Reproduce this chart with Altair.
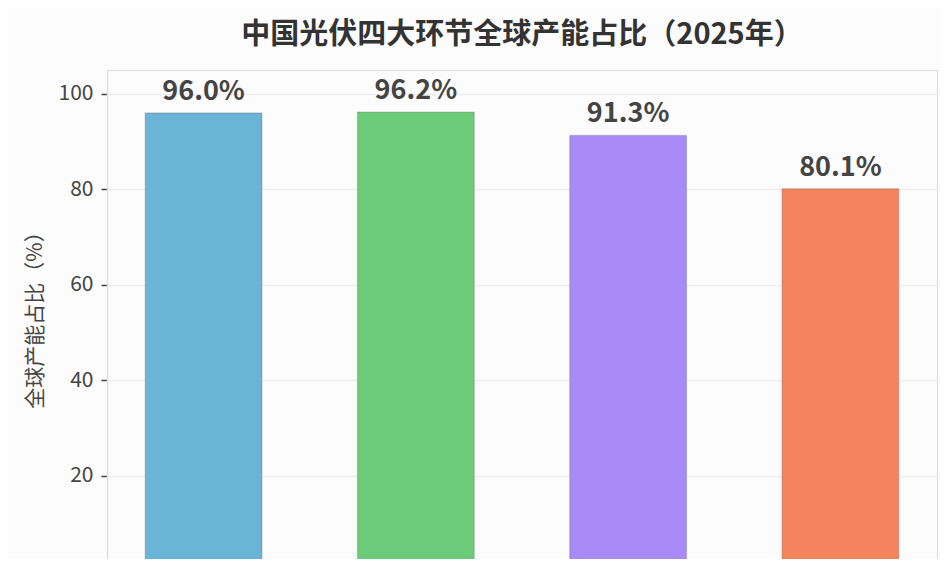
import altair as alt
import pandas as pd

categories = ["多晶硅", "硅片", "电池片", "组件"]
values = [96.0, 96.2, 91.3, 80.1]
colors = ["#6AB4D8", "#6CCB78", "#A98BF8", "#F5845E"]
labels = ["96.0%", "96.2%", "91.3%", "80.1%"]
y_ticks = [20, 40, 60, 80, 100]

df = pd.DataFrame({"环节": categories, "占比": values, "标签": labels})

font = "Noto Sans CJK SC"

x = alt.X("环节:N", sort=categories, title=None,
          scale=alt.Scale(paddingInner=0.45, paddingOuter=0.18),
          axis=None)
y = alt.Y("占比:Q", title="全球产能占比（%）",
          scale=alt.Scale(domain=[2.57, 105], nice=False, zero=False),
          axis=alt.Axis(values=y_ticks, labelFontSize=21,
                        labelColor="#444", labelFont=font, titleFont=font,
                        titleFontSize=21, titleFontWeight="normal", titleColor="#444",
                        titlePadding=13, tickColor="#444", tickSize=6, tickWidth=1.5,
                        domainColor="#dddddd", domainWidth=1.5, gridColor="#eeeeee",
                        gridWidth=1.5, labelPadding=8))

bars = alt.Chart(df).mark_bar(clip=True, strokeWidth=1.2, strokeOpacity=0.25,
                              stroke="#555").encode(
    x=x, y=y,
    color=alt.Color("环节:N", sort=categories,
                    scale=alt.Scale(domain=categories, range=colors), legend=None),
)

text = alt.Chart(df).mark_text(baseline="bottom", dy=-7, fontSize=27, fontWeight="bold",
                               color="#444", font=font).encode(
    x=alt.X("环节:N", sort=categories), y="占比:Q", text="标签:N")

chart = alt.layer(bars, text).properties(
    width=830, height=489,
    autosize=alt.AutoSizeParams(type="none"),
    padding={"left": 99, "top": 62, "right": 4, "bottom": 0},
    title=alt.TitleParams("中国光伏四大环节全球产能占比（2025年）", fontSize=29,
                          fontWeight="bold", color="#333", font=font, offset=20),
).configure_view(strokeWidth=0).configure(background="#fcfcfc")

chart.save("out.html", embed_options={"renderer": "svg", "actions": False})
